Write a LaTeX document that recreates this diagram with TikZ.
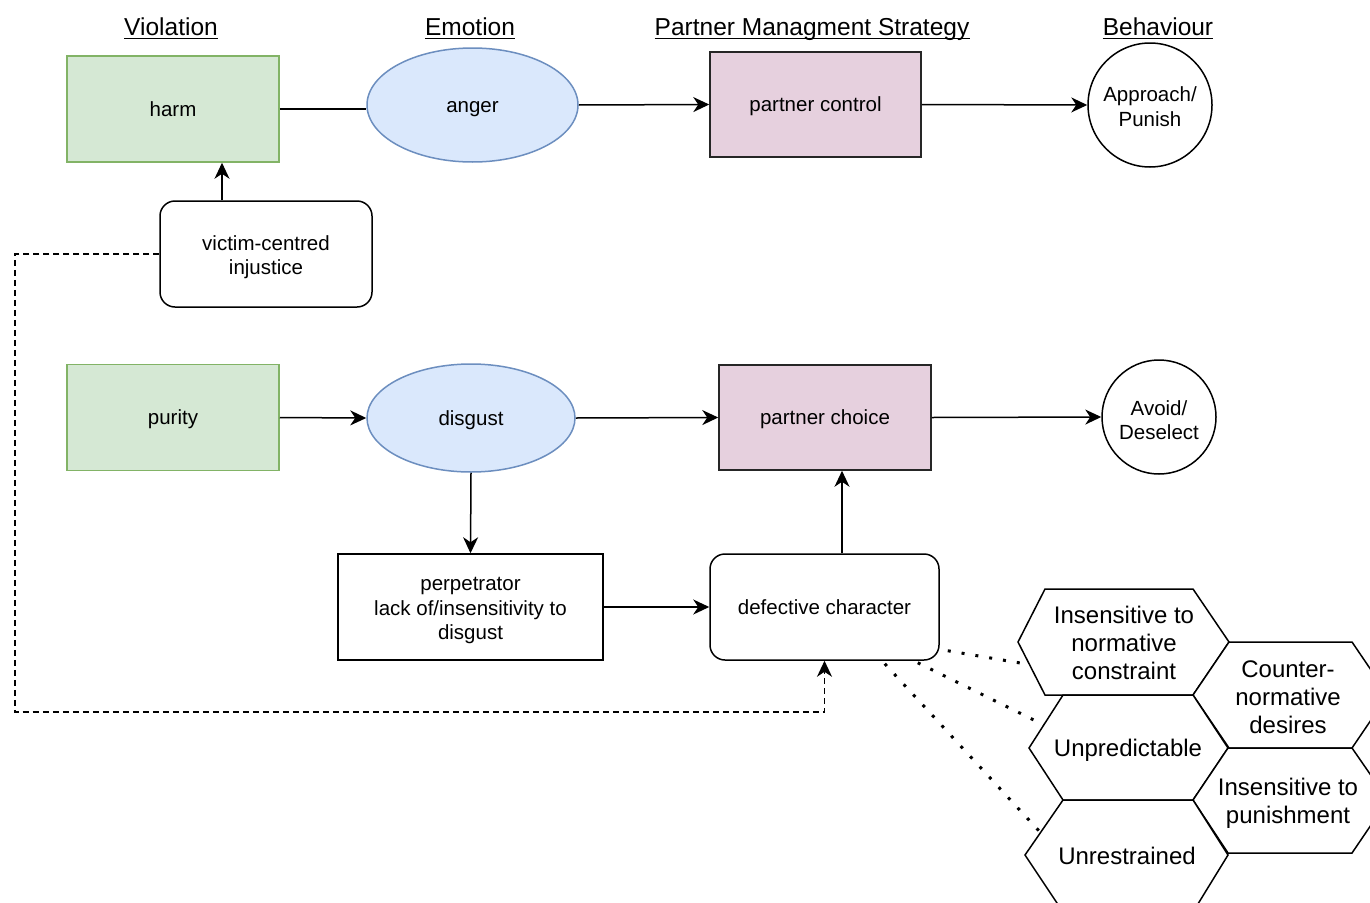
\documentclass[tikz,border=0pt]{standalone}
\usepackage{fontspec}
\setmainfont{Liberation Sans}
\usetikzlibrary{arrows.meta,shapes.geometric,calc}
\definecolor{gfill}{HTML}{D5E8D4}
\definecolor{gline}{HTML}{82B366}
\definecolor{bfill}{HTML}{DAE8FC}
\definecolor{bline}{HTML}{6C8EBF}
\definecolor{pfill}{HTML}{E6D0DE}
\newcommand\lnstrut{\rule[-0.252em]{0pt}{1.197em}}
\begin{document}
\begin{tikzpicture}[x=1pt,y=-1pt,
  shapebase/.style={line width=1.5pt, inner sep=0pt},
  base/.style={shapebase, font=\fontsize{20.5}{24.6}\selectfont, align=center,
     execute at begin node=\lnstrut, execute at end node=\lnstrut},
  txt/.style={inner sep=0pt, font=\fontsize{20.5}{24.6}\selectfont, align=center},
  gbox/.style={base, draw=gline, fill=gfill, minimum width=212pt, minimum height=106pt},
  bell/.style={base, ellipse, draw=bline, fill=bfill},
  pbox/.style={base, draw=black!85, fill=pfill, minimum width=211pt, minimum height=105pt},
  wbox/.style={shapebase, draw=black, fill=white, minimum height=106pt},
  rbox/.style={wbox, rounded corners=15pt},
  beh/.style={shapebase, circle, draw=black, fill=white},
  title/.style={inner sep=0pt, font=\fontsize{24.5}{29}\selectfont, anchor=base},
  uline/.style={line width=1pt},
  headtip/.style={-{Stealth[length=16pt,width=15pt,inset=5pt]}},
  arr/.style={line width=1.5pt, headtip},
  plain/.style={line width=1.5pt},
  dashline/.style={line width=1.5pt, dash pattern=on 6pt off 4pt},
  dotline/.style={line width=3pt, dash pattern=on 3pt off 11pt},
  hex/.style={line width=1.5pt, draw=black, fill=white, line join=miter},
  hext/.style={inner sep=0pt, align=center, font=\fontsize{24}{28}\selectfont}
]
\useasboundingbox (0,0) rectangle (1370,902);
\fill[white] (0,0) rectangle (1370,902);

% titles
\node[title] (t1) at (171,35.5) {Violation};
\node[title] (t2) at (470,35.5) {Emotion};
\node[title] (t3) at (812,35.5) {Partner Managment Strategy\ };
\node[title] (t4) at (1158,35.5) {Behaviour};
\foreach \t in {t1,t2,t3,t4}
  \draw[uline] ([yshift=-3pt]\t.base west) -- ([yshift=-3pt]\t.base east);

% top row
\node[gbox] (harm) at (173,109) {harm};
\node[bell, minimum width=211pt, minimum height=114pt] (anger) at (472.5,105) {anger};
\node[pbox] (pc) at (815.5,104.5) {partner control};
\node[beh, minimum size=124pt] (app) at (1150,105) {};
\node[txt] (apptext) at ([yshift=-1.5pt]app.center) {Approach/\\Punish};
\node[rbox, minimum width=212pt] (victim) at (266,254) {};
\node[txt] (victimtext) at ([yshift=-3pt]victim.center) {victim-centred\\injustice};

% bottom row
\node[gbox] (purity) at (173,417.5) {purity};
\node[bell, minimum width=208pt, minimum height=108pt] (disgust) at (471,418) {disgust};
\node[pbox, minimum width=212pt] (choice) at (825,417.5) {partner choice};
\node[beh, minimum size=114pt] (avoid) at (1159,417) {};
\node[txt] (avoidtext) at ([yshift=-3pt]avoid.center) {Avoid/\\Deselect};
\node[wbox, minimum width=265pt] (perp) at (470.5,607) {};
\node[txt] (perptext) at ([yshift=-3.5pt]perp.center) {perpetrator\\lack of/insensitivity to\\disgust};
\node[rbox, base, minimum width=229pt] (defect) at (824.5,607) {defective character};

% connectors
\draw[arr] ([xshift=-44pt]victim.north) -- ([xshift=-44pt]victim.north |- harm.south);
\draw[plain] (harm.east) -- (harm.east -| anger.west);
\draw[arr] (anger.east) -- (pc.west);
\draw[arr] (pc.east) -- (app.west);
\draw[arr] (purity.east) -- (disgust.west);
\draw[arr] (disgust.east) -- (choice.west);
\draw[arr] (choice.east) -- (avoid.west);
\draw[arr] (disgust.south) -- (perp.north);
\draw[arr] (perp.east) -- (defect.west);
\draw[arr] ([xshift=17.5pt]defect.north) -- ([xshift=17.5pt]defect.north |- choice.south);

\coordinate (d1) at (15,254);
\coordinate (d2) at (15,712);
\draw[dashline, headtip] (victim.west) -- (d1) -- (d2) -| (defect.south);

% dotted links to traits
\coordinate (s1) at ($(defect.south east)+(8,-10)$);
\coordinate (s2) at ($(defect.south east)+(-22,2)$);
\coordinate (s3) at ($(defect.south east)+(-55,3)$);
\coordinate (e1) at (1032,665);
\coordinate (e2) at (1044,725);
\coordinate (e3) at (1040,832);
\draw[dotline] (s1) -- (e1);
\draw[dotline] (s2) -- (e2);
\draw[dotline] (s3) -- (e3);

% hexagons
\begin{scope}
\clip (0,0) rectangle (1370,902);
\draw[hex] (1018,642) -- (1045,589) -- (1193,589) -- (1229,642) -- (1193,695) -- (1045,695) -- cycle;
\draw[hex] (1193,695) -- (1229,642) -- (1352,642) -- (1388,695) -- (1352,748) -- (1229,748) -- cycle;
\draw[hex] (1029,748) -- (1063,695) -- (1193,695) -- (1228,748) -- (1193,800) -- (1063,800) -- cycle;
\draw[hex] (1193,800) -- (1228,748) -- (1352,748) -- (1388,800) -- (1352,853) -- (1228,853) -- cycle;
\draw[hex] (1025,855) -- (1063,800) -- (1193,800) -- (1228,855) -- (1193,912) -- (1063,912) -- cycle;
\end{scope}
\node[hext] (h1) at (1124,643) {Insensitive to\\normative\\constraint};
\node[hext] (h2) at (1288,697) {Counter-\\normative\\desires};
\node[hext] (h3) at (1128,750) {Unpredictable};
\node[hext] (h4) at (1288,803) {Insensitive to\\punishment};
\node[hext] (h5) at (1127,856) {Unrestrained};
\end{tikzpicture}
\end{document}
